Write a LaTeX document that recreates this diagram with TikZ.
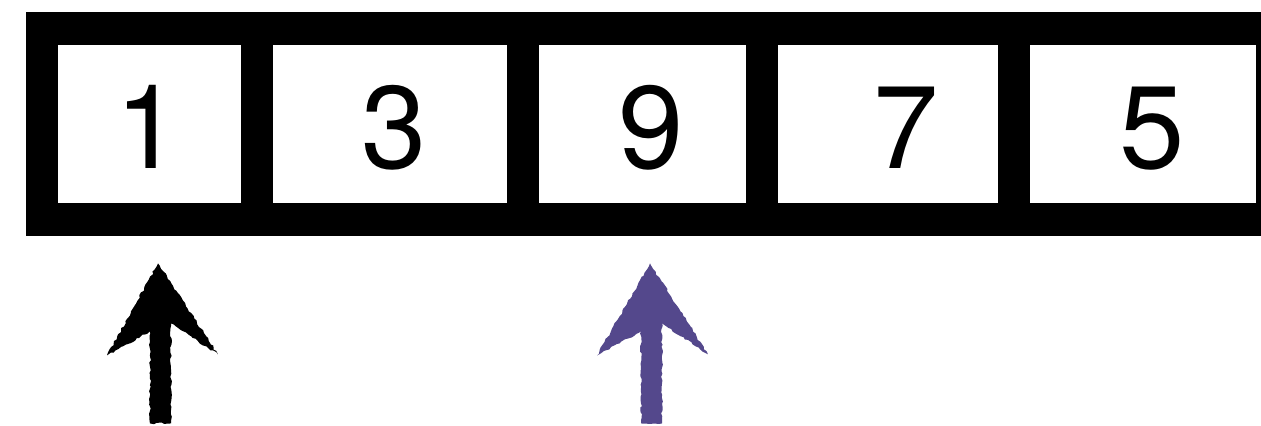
\documentclass[tikz,border=0pt]{standalone}
\usepackage{fontspec}
\setmainfont{TeX Gyre Heros}
\usetikzlibrary{calc,decorations.pathmorphing}
\definecolor{ptrpurple}{RGB}{84,72,140}

\begin{document}
\begin{tikzpicture}[
  x=0.5pt, y=-0.5pt,
  cell/.style={fill=white, inner sep=0pt, minimum height=79pt},
  digit/.style={font=\fontsize{58.7}{60}\selectfont, anchor=base, inner sep=0pt},
  pointer/.style={decorate, decoration={random steps, segment length=1.5pt, amplitude=0.5pt}}
]
\pgfmathsetseed{7}
\fill[white] (0,0) rectangle (1261,425);
\useasboundingbox (0,0) rectangle (1261,425);

% the array
\fill (26,12) rectangle (1261,236);
\node[cell, minimum width=91.5pt] (c1) at (149.5,124) {};
\node[cell, minimum width=117pt] (c2) at (390,124) {};
\node[cell, minimum width=103.5pt] (c3) at (642.5,124) {};
\node[cell, minimum width=110pt] (c4) at (888,124) {};
\node[cell, minimum width=113pt] (c5) at (1143,124) {};

\node[digit] (n1) at (148,168) {1};
\node[digit] (n2) at (394,168) {3};
\node[digit] (n3) at (651,168) {9};
\node[digit] (n4) at (906,168) {7};
\node[digit] (n5) at (1152,168) {5};

% pointers
\fill[pointer, black, shift={($(c1.south)+(8.5,60)$)}]
  (0,0) -- (60,91) -- (13,60) -- (13,160) -- (-8,160) -- (-8,68) -- (-51,92) -- cycle;
\fill[pointer, ptrpurple, shift={($(c3.south)+(7.5,60)$)}]
  (0,0) -- (58,91) -- (12,60) -- (12,160) -- (-9,160) -- (-9,68) -- (-53,92) -- cycle;
\end{tikzpicture}
\end{document}
